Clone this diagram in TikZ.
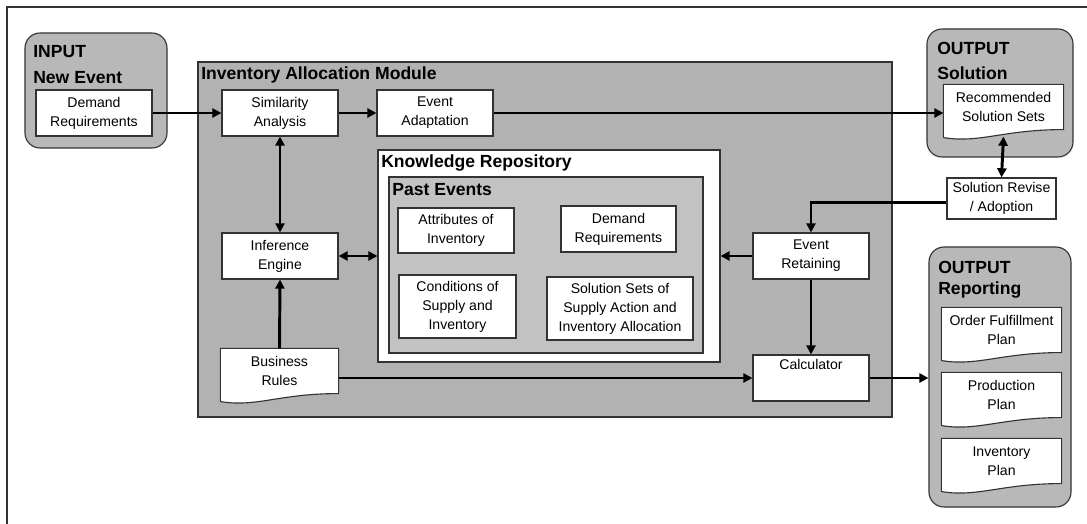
\documentclass[tikz,border=0pt]{standalone}
\usepackage{fontspec}
\setmainfont{Liberation Sans}
\usepackage{tikz}
\usetikzlibrary{positioning,calc,fit,arrows.meta}

\definecolor{modgray}{gray}{0.70}
\definecolor{pastgray}{gray}{0.76}
\definecolor{outgray}{gray}{0.72}
\definecolor{edgegray}{gray}{0.2}

\tikzset{
    box/.style={draw=edgegray, line width=0.8pt, fill=white, minimum width=2.9cm, minimum height=1.15cm,
        align=center, inner sep=1pt, font=\fontsize{10}{13.5}\selectfont},
    docbox/.style={box, draw=none, minimum width=2.975cm, minimum height=1.1cm},
    group/.style={draw=edgegray, line width=0.8pt, inner sep=0pt},
    outgroup/.style={group, fill=outgray, rounded corners=0.375cm},
    title/.style={anchor=west, inner sep=0pt, font=\fontsize{12.5}{15}\selectfont\bfseries},
    flow/.style={line width=2.1pt, -{Triangle[length=6.5pt,width=6.5pt]}},
    biflow/.style={line width=2.1pt, {Triangle[length=6.5pt,width=6.5pt]}-{Triangle[length=6.5pt,width=6.5pt]}},
    docline/.style={draw=edgegray, line width=0.8pt}
}

% box with a wavy bottom edge (document symbol)
\newcommand{\docwave}[1]{%
    \fill[white] ($(#1.south east)+(0,-2)$) -- (#1.south east) .. controls ($(#1.south west)!0.5!(#1.south east)$) and ($(#1.south west)!0.3!(#1.south east)+(0,14)$) .. ($(#1.south west)+(0,8)$) -- ($(#1.south west)+(0,-2)$) -- cycle;
    \draw[docline] ($(#1.south west)+(0,8)$) -- (#1.north west) -- (#1.north east) -- (#1.south east) .. controls ($(#1.south west)!0.5!(#1.south east)$) and ($(#1.south west)!0.3!(#1.south east)+(0,14)$) .. ($(#1.south west)+(0,8)$);
}

\begin{document}
\begin{tikzpicture}[x=0.025cm, y=-0.025cm]
    \useasboundingbox (0,0) rectangle (1087,524);
    \draw[edgegray, line width=0.8pt] (7,530) -- (7,7) -- (1090,7);

    % Input
    \node[outgroup, fit={(25,33) (167,148)}] (input) {};
    \node[title] at (33,52) {INPUT};
    \node[title] at (33,78) {New Event};
    \node[box] (demand) at (94,113) {Demand\\Requirements};

    % Inventory Allocation Module
    \node[group, fill=modgray, fit={(198,62) (892,417)}] (module) {};
    \node[title] at (201,75) {Inventory Allocation Module};
    \node[box] (simil) at (280,113) {Similarity\\Analysis};
    \node[box] (adapt) at (435,113) {Event\\Adaptation};
    \node[box] (infer) at (280,256) {Inference\\Engine};
    \node[docbox, minimum width=2.925cm] (rules) at (279.5,371) {Business\\Rules};
    \docwave{rules}
    \node[box] (retain) at (811,256) {Event\\Retaining};
    \node[box, label={[anchor=north, inner sep=3pt, font=\fontsize{10}{13.5}\selectfont]north:Calculator}] (calc) at (811,378) {};

    % Knowledge Repository
    \node[group, fill=white, fit={(378,150) (720,362)}] (repo) {};
    \node[title] at (381,163) {Knowledge Repository};
    \node[group, fill=pastgray, fit={(389,177) (703,353)}] (past) {};
    \node[title] at (392,190) {Past Events};
    \node[box, minimum height=1.125cm] (attrib) at (456,230.5) {Attributes of\\Inventory};
    \node[box, minimum width=2.875cm] (pastdemand) at (618.5,229) {Demand\\Requirements};
    \node[box, minimum width=2.925cm, minimum height=1.575cm] (cond) at (457.5,306.5) {Conditions of\\Supply and\\Inventory};
    \node[box, minimum width=3.65cm, minimum height=1.575cm] (solsets) at (620,308.5) {Solution Sets of\\Supply Action and\\Inventory Allocation};

    % Output Solution
    \node[outgroup, fit={(927,29) (1073,157)}] (outsol) {};
    \node[title] at (937,48) {OUTPUT};
    \node[title] at (937,73) {Solution};
    \node[docbox] (recom) at (1003.5,107) {Recommended\\Solution Sets};
    \docwave{recom}
    \node[box, minimum width=2.725cm, minimum height=1.025cm] (revise) at (1001.5,198.5) {Solution Revise\\/ Adoption};

    % Output Reporting
    \node[outgroup, fit={(929,247) (1071,507)}] (outrep) {};
    \node[title] at (938,267) {OUTPUT};
    \node[title] at (938,290) {Reporting};
    \node[docbox] (order) at (1001.5,330) {Order Fulfillment\\Plan};
    \docwave{order}
    \node[docbox] (prodplan) at (1001.5,395) {Production\\Plan};
    \docwave{prodplan}
    \node[docbox] (invplan) at (1001.5,461) {Inventory\\Plan};
    \docwave{invplan}

    % Connectors
    \draw[flow] (demand.east) -- (simil.west);
    \draw[flow] (simil.east) -- (adapt.west);
    \draw[flow] (adapt.east) -- (adapt.east -| recom.west);
    \draw[biflow] ([yshift=-5pt]recom.south) -- (revise.north);
    \draw[flow] ([yshift=-3pt]revise.west) -| (retain.north);
    \draw[flow] (retain.west) -- (retain.west -| repo.east);
    \draw[flow] (retain.south) -- (calc.north);
    \draw[biflow] (infer.east) -- (infer.east -| repo.west);
    \draw[biflow] (simil.south) -- (infer.north);
    \draw[flow] (rules.north) -- (infer.south);
    \draw[flow] (rules.east |- calc.west) -- (calc.west);
    \draw[flow] (calc.east) -- (calc.east -| outrep.west);
\end{tikzpicture}
\end{document}
